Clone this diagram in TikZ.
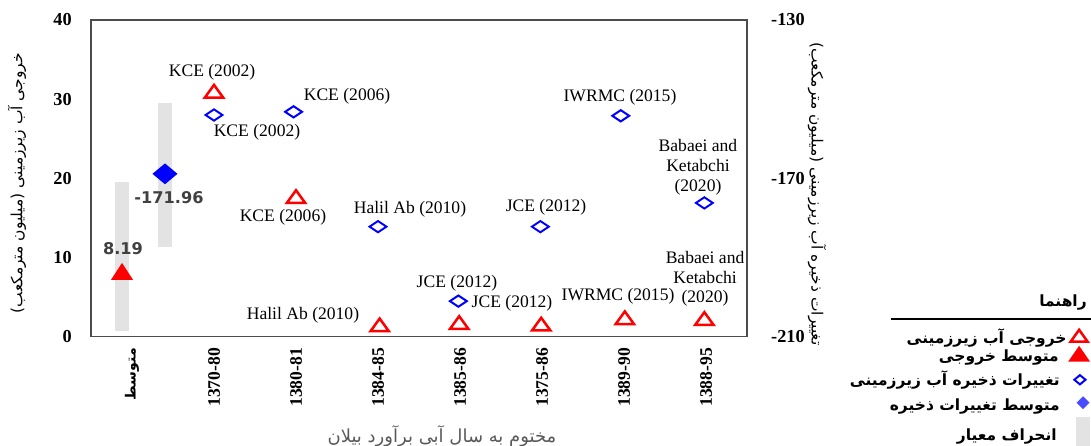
\documentclass[tikz,border=0pt]{standalone}
\usepackage{fontspec}
\setmainfont{Liberation Serif}
\newfontfamily\fafont[Script=Arabic]{DejaVu Sans}
\newfontfamily\numfont{DejaVu Sans}
\TeXXeTstate=1
\newcommand{\fa}[1]{{\fafont\beginR #1\endR}}

\definecolor{barGray}{HTML}{E3E3E3}
\definecolor{legBlue}{HTML}{4A4AFF}

\tikzset{
  lbl/.style={font=\fontsize{12.5}{14.2}\selectfont, inner sep=0pt, align=center},
  ytick/.style={font=\fontsize{13}{15}\selectfont\bfseries, anchor=east, inner sep=0pt},
  xtick/.style={font=\fontsize{12.5}{15}\selectfont\bfseries, rotate=90, anchor=east, inner sep=0pt},
  meanlbl/.style={font=\numfont\bfseries\fontsize{11.5}{13}\selectfont, text=black!75, inner sep=0pt},
  axtitle/.style={font=\fafont\fontsize{11}{13}\selectfont, inner sep=0pt},
  legtext/.style={font=\fafont\bfseries\fontsize{11}{13}\selectfont, anchor=east, inner sep=0pt},
  outtri/.style={draw=red, line width=1.8pt, line join=miter},
  stordia/.style={draw=blue, line width=1.4pt, line join=miter},
  sdbar/.style={fill=barGray, draw=none}
}

\begin{document}
\begin{tikzpicture}[x=2.05cm, y=0.198cm]
\useasboundingbox (-1.11,-13.75) rectangle (12.195,42.52);

% standard deviation bars
\fill[sdbar] (0.293,0.76) rectangle (0.463,19.56);
\fill[sdbar] (0.817,11.36) rectangle (0.988,29.53);

% frame
\draw[black!70, line width=0.8pt] (0,0) rectangle (8,40);

% left axis
\foreach \v in {0,10,20,30,40}
    \node[ytick] (yl\v) at (-0.232,\v) {\v};
% right axis
\foreach \v/\t in {0/-210,20/-170,40/-130}
    \node[ytick] (yr\v) at (8.707,\v) {\t};

% categories
\node[xtick, font=\fafont\bfseries\fontsize{10}{12}\selectfont] (c0) at (0.5,-1.39) {\fa{متوسط}};
\foreach \i/\t in {1/1370-80,2/1380-81,3/1384-85,4/1385-86,5/1375-86,6/1389-90,7/1388-95}
    \node[xtick] (c\i) at (\i+0.5,-1.39) {\t};

% axis titles
\node[axtitle, rotate=90] (ttlL) at (-0.902,19.4) {\fa{خروجی آب زیرزمینی (میلیون مترمکعب)}};
\node[axtitle, rotate=-90] (ttlR) at (8.854,18.0) {\fa{تغییرات ذخیره آب زیرزمینی (میلیون مترمکعب)}};
\node[axtitle, text=black!65, font=\fafont\fontsize{12.8}{14}\selectfont] (ttlX) at (4.28,-12.6) {\fa{مختوم به سال آبی برآورد بیلان}};

% groundwater outflow
\foreach \x/\v in {1.5/31.0,2.5/17.7,3.52/1.5,4.49/1.8,5.49/1.6,6.51/2.4,7.48/2.3}
    \draw[outtri] (\x,\v) ++(-6.5pt,-4.5pt) -- ++(13pt,0pt) -- ++(-6.5pt,9pt) -- cycle;
% storage change
\foreach \x/\v in {1.5/28.0,2.47/28.4,3.5/13.9,4.48/4.5,5.48/13.9,6.46/27.9,7.48/16.9}
    \draw[stordia] (\x,\v) ++(-6pt,0pt) -- ++(6pt,4pt) -- ++(6pt,-4pt) -- ++(-6pt,-4pt) -- cycle;

% means
\fill[red] (0.378,8.19) ++(-7.8pt,-5.6pt) -- ++(15.6pt,0pt) -- ++(-7.8pt,12pt) -- cycle;
\fill[blue] (0.902,20.57) ++(-8.9pt,0pt) -- ++(8.9pt,7.4pt) -- ++(8.9pt,-7.4pt) -- ++(-8.9pt,-7.4pt) -- cycle;
\node[meanlbl] (m1) at (0.39,11.1) {8.19};
\node[meanlbl] (m2) at (0.951,17.54) {-171.96};

% labels of outflow points
\node[lbl] (lt1) at (1.476,33.44) {KCE (2002)};
\node[lbl] (lt2) at (2.341,15.14) {KCE (2006)};
\node[lbl] (lt3) at (2.585,2.65) {Halil Ab (2010)};
\node[lbl] (lt4) at (5.134,4.29) {JCE (2012)};
\node[lbl] (lt6) at (6.427,5.05) {IWRMC (2015)};
\node[lbl] (lt7) at (7.488,7.32) {Babaei and\\Ketabchi\\(2020)};
% labels of storage points
\node[lbl] (ld1) at (2.024,25.87) {KCE (2002)};
\node[lbl] (ld2) at (3.122,30.41) {KCE (2006)};
\node[lbl] (ld3) at (3.89,16.15) {Halil Ab (2010)};
\node[lbl] (ld4) at (4.463,6.81) {JCE (2012)};
\node[lbl] (ld5) at (5.549,16.40) {JCE (2012)};
\node[lbl] (ld6) at (6.451,30.28) {IWRMC (2015)};
\node[lbl] (ld7) at (7.402,21.45) {Babaei and\\Ketabchi\\(2020)};

% legend
\node[legtext] (legT) at (12.146,4.29) {\fa{راهنما}};
\draw[line width=1.4pt] (9.756,2.27) -- (12.195,2.27);
\draw[outtri] (12.05,0.13) ++(-6pt,-4.2pt) -- ++(12pt,0pt) -- ++(-6pt,8.4pt) -- cycle;
\node[legtext] (leg1) at (11.90,-0.13) {\fa{خروجی آب زیرزمینی}};
\fill[red] (12.05,-2.15) ++(-7.8pt,-5.6pt) -- ++(15.6pt,0pt) -- ++(-7.8pt,11.3pt) -- cycle;
\node[legtext] (leg2) at (11.805,-2.65) {\fa{متوسط خروجی}};
\draw[stordia] (12.06,-5.43) ++(-4pt,0pt) -- ++(4pt,3.3pt) -- ++(4pt,-3.3pt) -- ++(-4pt,-3.3pt) -- cycle;
\node[legtext] (leg3) at (11.817,-5.43) {\fa{تغییرات ذخیره آب زیرزمینی}};
\fill[legBlue] (12.098,-8.33) ++(-4.6pt,0pt) -- ++(4.6pt,4.6pt) -- ++(4.6pt,-4.6pt) -- ++(-4.6pt,-4.6pt) -- cycle;
\node[legtext] (leg4) at (11.817,-8.83) {\fa{متوسط تغییرات ذخیره}};
\fill[sdbar] (12.012,-10.09) rectangle (12.183,-13.75);
\node[legtext] (leg5) at (11.78,-12.62) {\fa{انحراف معیار}};
\end{tikzpicture}
\end{document}
